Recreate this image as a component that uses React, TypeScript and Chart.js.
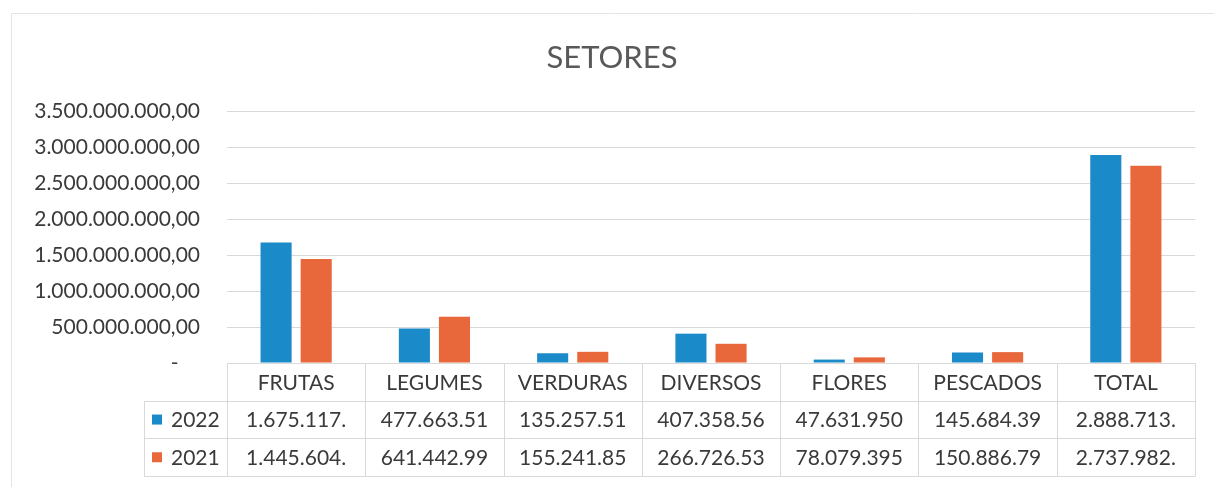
import React, { useEffect, useRef } from 'react';
import { Chart, registerables } from 'chart.js';

Chart.register(...registerables);

const chartTitle = 'SETORES';
const categories = ['FRUTAS', 'LEGUMES', 'VERDURAS', 'DIVERSOS', 'FLORES', 'PESCADOS', 'TOTAL'];
const seriesLabels = ['2022', '2021'];
const values2022 = [1675117000, 477663510, 135257510, 407358560, 47631950, 145684390, 2888713000];
const values2021 = [1445604000, 641442990, 155241850, 266726530, 78079395, 150886790, 2737982000];
const yMax = 3500000000;
const yStep = 500000000;

const BLUE = '#1a8ac8';
const ORANGE = '#e8673b';
const TEXT = '#3a3a3a';
const GRID = '#d9d9d9';
const FONT = 'Lato';

function fmtBR(v: number, decimals: number): string {
  const fixed = v.toFixed(decimals);
  const [intPart, dec] = fixed.split('.');
  const intStr = intPart.replace(/\B(?=(\d{3})+(?!\d))/g, '.');
  return dec ? intStr + ',' + dec : intStr;
}

// cells in the data table are cut off by the cell width
function cellText(v: number): string {
  return fmtBR(v, 0).slice(0, 10);
}

const framePlugin = {
  id: 'frame',
  beforeDraw(chart: any) {
    const { ctx, width, height } = chart;
    ctx.save();
    ctx.fillStyle = '#ffffff';
    ctx.fillRect(0, 0, width, height);
    ctx.strokeStyle = '#e4e4e4';
    ctx.lineWidth = 1;
    ctx.beginPath();
    ctx.moveTo(11.5, height);
    ctx.lineTo(11.5, 13.5);
    ctx.lineTo(width, 13.5);
    ctx.stroke();
    // title
    ctx.fillStyle = '#595959';
    ctx.font = `31px ${FONT}`;
    ctx.textAlign = 'center';
    ctx.textBaseline = 'middle';
    ctx.fillText(chartTitle, 612, 58);
    ctx.restore();
  },
};

const tablePlugin = {
  id: 'dataTable',
  afterDraw(chart: any) {
    const { ctx, chartArea } = chart;
    const xScale = chart.scales.x;
    const n = categories.length;
    const colW = (chartArea.right - chartArea.left) / n;
    const top = Math.round(chartArea.bottom);
    const rowH = 37.7;
    const y1 = top + rowH;
    const y2 = top + rowH * 2;
    const y3 = top + rowH * 3;
    const legendLeft = 144;
    const L = chartArea.left;
    const R = chartArea.right;
    ctx.save();
    ctx.strokeStyle = GRID;
    ctx.lineWidth = 1;
    ctx.beginPath();
    ctx.moveTo(L, top + 0.5);
    ctx.lineTo(R, top + 0.5);
    [y1, y2, y3].forEach((y) => {
      const yy = Math.round(y) + 0.5;
      ctx.moveTo(legendLeft, yy);
      ctx.lineTo(R, yy);
    });
    for (let i = 0; i <= n; i++) {
      const xx = Math.round(L + i * colW) + 0.5;
      ctx.moveTo(xx, top);
      ctx.lineTo(xx, Math.round(y3) + 0.5);
    }
    ctx.moveTo(legendLeft + 0.5, Math.round(y1));
    ctx.lineTo(legendLeft + 0.5, Math.round(y3) + 0.5);
    ctx.stroke();

    ctx.fillStyle = TEXT;
    ctx.font = `21px ${FONT}`;
    ctx.textAlign = 'center';
    ctx.textBaseline = 'middle';
    categories.forEach((c, i) => {
      const cx = xScale.getPixelForValue(i);
      ctx.fillText(c, cx, top + rowH / 2 + 1);
      ctx.fillText(cellText(values2022[i]), cx, y1 + rowH / 2 + 1);
      ctx.fillText(cellText(values2021[i]), cx, y2 + rowH / 2 + 1);
    });
    const colors = [BLUE, ORANGE];
    [y1, y2].forEach((y, k) => {
      const cy = y + rowH / 2;
      ctx.fillStyle = colors[k];
      ctx.fillRect(152, cy - 5, 10, 10);
      ctx.fillStyle = TEXT;
      ctx.textAlign = 'left';
      ctx.fillText(seriesLabels[k], 171, cy + 1);
    });
    ctx.restore();
  },
};

export default function App() {
  const canvasRef = useRef<HTMLCanvasElement | null>(null);

  useEffect(() => {
    document.body.style.margin = '0';
    const canvas = canvasRef.current;
    if (!canvas) return;
    const chart = new Chart(canvas, {
      type: 'bar',
      data: {
        labels: categories,
        datasets: [
          {
            label: seriesLabels[0],
            data: values2022,
            backgroundColor: BLUE,
            categoryPercentage: 0.58,
            barPercentage: 0.775,
          },
          {
            label: seriesLabels[1],
            data: values2021,
            backgroundColor: ORANGE,
            categoryPercentage: 0.58,
            barPercentage: 0.775,
          },
        ],
      },
      options: {
        animation: false,
        responsive: true,
        maintainAspectRatio: false,
        layout: { padding: { top: 111, bottom: 124, left: 0, right: 19 } },
        plugins: {
          legend: { display: false },
          tooltip: { enabled: false },
          title: { display: false },
        },
        scales: {
          x: {
            display: false,
          },
          y: {
            min: 0,
            max: yMax,
            border: { display: false },
            grid: { color: GRID, lineWidth: 1, drawTicks: false },
            ticks: {
              stepSize: yStep,
              padding: 27,
              color: TEXT,
              font: { family: FONT, size: 21 },
              callback: (v: any) => (Number(v) === 0 ? '-    ' : fmtBR(Number(v), 2)),
            },
            afterFit: (scale: any) => {
              scale.width = 227;
            },
          },
        },
      },
      plugins: [framePlugin, tablePlugin],
    });
    return () => chart.destroy();
  }, []);

  return (
    <div style={{ position: 'relative', width: '1214px', height: '487px' }}>
      <canvas ref={canvasRef} />
    </div>
  );
}
